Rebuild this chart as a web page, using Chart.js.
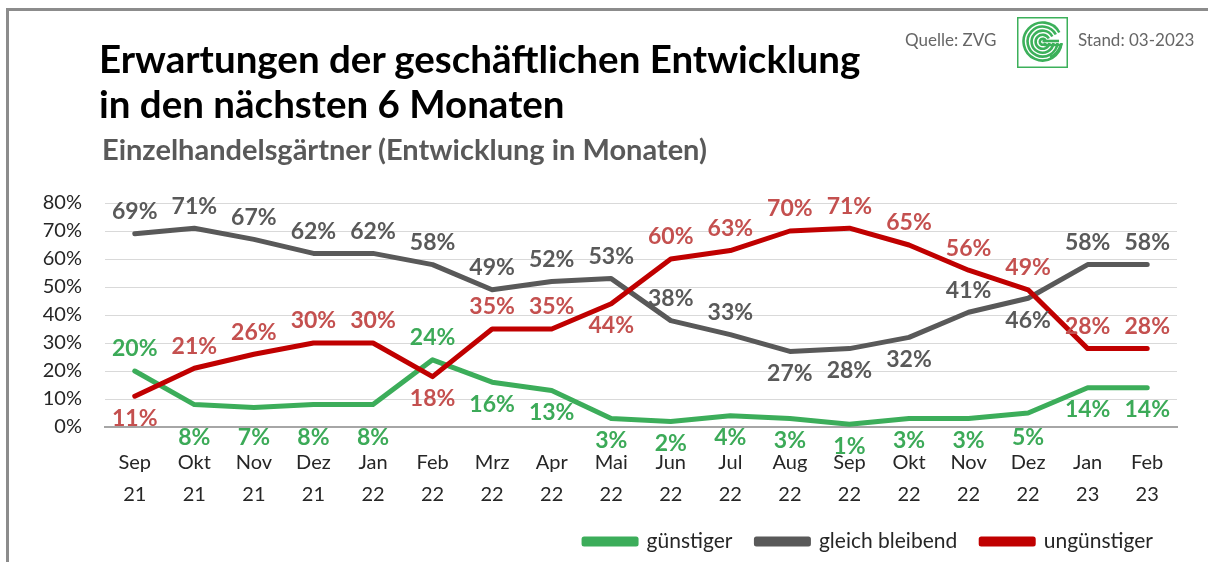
<!DOCTYPE html>
<html>
<head>
<meta charset="utf-8">
<script src="https://cdn.jsdelivr.net/npm/chart.js@4/dist/chart.umd.min.js"></script>
<style>
  body { margin: 0; background: #fff; font-family: Lato, sans-serif; }
  #wrap { position: relative; width: 1208px; height: 562px; overflow: hidden; }
  #rahmen { position: absolute; left: 6px; top: 8px; width: 1210px; height: 570px;
            border-top: 3px solid #8c8c8c; border-left: 3px solid #8c8c8c; }
  canvas { position: absolute; left: 0; top: 0; }
  .titel { position: absolute; left: 99px; font-weight: 700; font-size: 38.5px; line-height: 45px; color: #000; white-space: nowrap; }
  .unter { position: absolute; left: 102px; top: 134px; font-weight: 700; font-size: 29px; line-height: 30px; color: #595959; white-space: nowrap; }
  .info { position: absolute; top: 30px; font-size: 17px; line-height: 20px; color: #666; white-space: nowrap; }
  #logo { position: absolute; left: 1017px; top: 17px; }
</style>
</head>
<body>
<div id="wrap">
  <canvas id="chart" width="1208" height="562"></canvas>
  <div id="rahmen"></div>
  <div class="titel" style="top:36px">Erwartungen der geschäftlichen Entwicklung</div>
  <div class="titel" style="top:81px">in den nächsten 6 Monaten</div>
  <div class="unter">Einzelhandelsgärtner (Entwicklung in Monaten)</div>
  <div class="info" style="left:905px">Quelle: ZVG</div>
  <div class="info" style="left:1078px">Stand: 03-2023</div>
  <svg id="logo" width="51" height="51" viewBox="0 0 51 51">
    <rect x="0.75" y="0.75" width="49.5" height="49.5" fill="#fff" stroke="#3cb05a" stroke-width="1.5"/>
    <g fill="none" stroke="#3cb05a" stroke-width="2.6">
      <path d="M 42.3 15.5 A 19 19 0 1 0 44.5 26"/>
      <path d="M 38.8 17.5 A 15 15 0 1 0 40.5 26"/>
      <path d="M 35.3 19.5 A 11 11 0 1 0 36.5 26"/>
      <path d="M 31.8 21.5 A 7 7 0 1 0 32.5 26"/>
      <path d="M 28.5 23.5 A 3 3 0 1 0 28.5 26"/>
      <path d="M 25.5 24 L 42 24"/>
      <path d="M 27 28 L 44 28 Q 40 38 33 40"/>
    </g>
  </svg>
</div>
<script>
// Monate
const monate = [
  ['Sep', '21'], ['Okt', '21'], ['Nov', '21'], ['Dez', '21'], ['Jan', '22'], ['Feb', '22'],
  ['Mrz', '22'], ['Apr', '22'], ['Mai', '22'], ['Jun', '22'], ['Jul', '22'], ['Aug', '22'],
  ['Sep', '22'], ['Okt', '22'], ['Nov', '22'], ['Dez', '22'], ['Jan', '23'], ['Feb', '23']
];

// Werte in %
const guenstiger = [20, 8, 7, 8, 8, 24, 16, 13, 3, 2, 4, 3, 1, 3, 3, 5, 14, 14];
const gleichBleibend = [69, 71, 67, 62, 62, 58, 49, 52, 53, 38, 33, 27, 28, 32, 41, 46, 58, 58];
const unguenstiger = [11, 21, 26, 30, 30, 18, 35, 35, 44, 60, 63, 70, 71, 65, 56, 49, 28, 28];

const yTicks = [0, 10, 20, 30, 40, 50, 60, 70, 80];

// Beschriftung ober- (o) oder unterhalb (u) der Linie
const lageGruen = ['o','u','u','u','u','o','u','u','u','u','u','u','u','u','u','u','u','u'];
const lageGrau  = ['o','o','o','o','o','o','o','o','o','o','o','u','u','u','o','u','o','o'];
const lageRot   = ['u','o','o','o','o','u','o','o','u','o','o','o','o','o','o','o','o','o'];

const farben = {
  gruen: '#3cad5a', grau: '#595959', rot: '#c00000',
  gruenText: '#3caa58', grauText: '#595959', rotText: '#c4504f'
};

const wertLabels = {
  id: 'wertLabels',
  afterDatasetsDraw(chart) {
    const ctx = chart.ctx;
    const unten = chart.chartArea.bottom;
    ctx.save();
    ctx.font = 'bold 23px Lato';
    ctx.textAlign = 'center';
    ctx.textBaseline = 'middle';
    chart.data.datasets.forEach((ds, i) => {
      const meta = chart.getDatasetMeta(i);
      ctx.fillStyle = ds.textFarbe;
      meta.data.forEach((pt, j) => {
        let y;
        if (ds.lage[j] === 'o') {
          y = pt.y - 22;
        } else {
          y = pt.y + 22;
          // nicht auf die Achse schreiben
          if (y > unten - 6) y = Math.max(y, unten + 11);
        }
        ctx.fillText(ds.data[j] + '%', pt.x, y);
      });
    });
    ctx.restore();
  }
};

function linie(label, data, farbe, textFarbe, lage, order) {
  return {
    label, data, order, lage, textFarbe,
    borderColor: farbe,
    backgroundColor: farbe,
    borderWidth: 5,
    borderCapStyle: 'round',
    borderJoinStyle: 'round',
    pointRadius: 0,
    tension: 0
  };
}

new Chart(document.getElementById('chart'), {
  type: 'line',
  data: {
    labels: monate,
    datasets: [
      linie('günstiger', guenstiger, farben.gruen, farben.gruenText, lageGruen, 3),
      linie('gleich bleibend', gleichBleibend, farben.grau, farben.grauText, lageGrau, 2),
      linie('ungünstiger', unguenstiger, farben.rot, farben.rotText, lageRot, 1)
    ]
  },
  options: {
    responsive: false,
    animation: false,
    layout: { padding: { top: 203, right: 31, left: 0, bottom: 0 } },
    plugins: {
      tooltip: { enabled: false },
      legend: {
        position: 'bottom',
        align: 'end',
        labels: {
          boxWidth: 52,
          boxHeight: 5,
          padding: 24,
          color: '#262626',
          font: { family: 'Lato', size: 21 },
          sort: (a, b) => a.datasetIndex - b.datasetIndex
        }
      }
    },
    scales: {
      x: {
        offset: true,
        grid: { display: false },
        border: { color: '#a6a6a6', width: 2 },
        ticks: {
          color: '#262626',
          font: { family: 'Lato', size: 20, lineHeight: 1.6 },
          padding: 12,
          maxRotation: 0,
          autoSkip: false
        },
        afterFit: s => { s.height = 80; }
      },
      y: {
        min: 0,
        max: 80,
        afterBuildTicks: s => { s.ticks = yTicks.map(v => ({ value: v })); },
        grid: { color: '#d9d9d9', drawTicks: false },
        border: { display: false },
        ticks: {
          color: '#262626',
          font: { family: 'Lato', size: 20 },
          padding: 23,
          callback: v => v + '%'
        },
        afterFit: s => { s.width = 105; }
      }
    }
  },
  plugins: [wertLabels]
});
</script>
</body>
</html>
